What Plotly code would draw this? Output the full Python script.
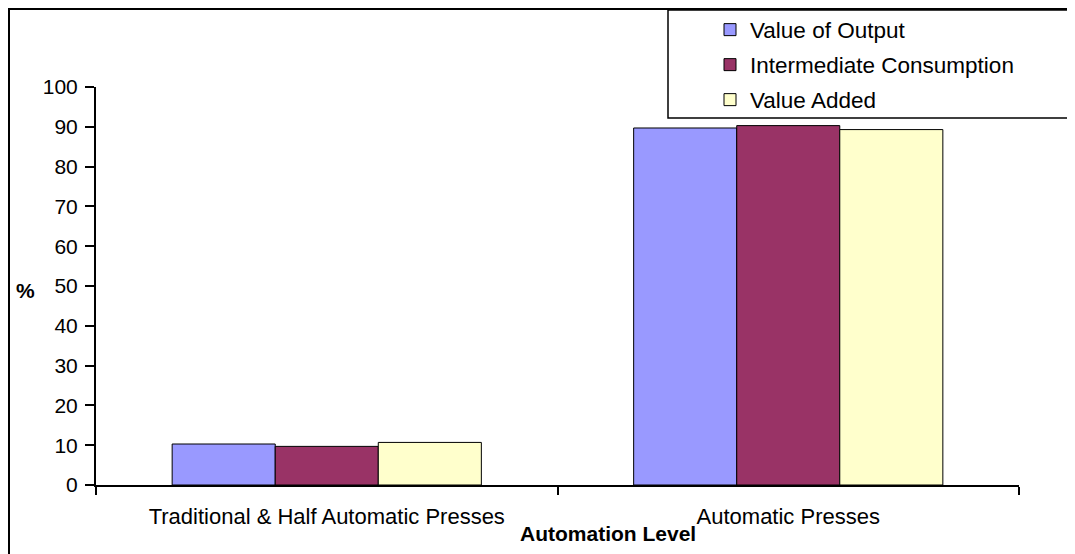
import plotly.graph_objects as go

categories = ["Traditional & Half Automatic Presses", "Automatic Presses"]
series_names = ["Value of Output", "Intermediate Consumption", "Value Added"]
value_of_output = [10.3, 89.7]
intermediate_consumption = [9.7, 90.3]
value_added = [10.7, 89.3]
colors = ["#9999FF", "#993366", "#FFFFCC"]
y_ticks = list(range(0, 101, 10))

W, H = 1075, 554
OFF = 8  # page body margin
L, R, T, B = 88, 64, 79, 77
pw, ph = W - L - R, H - T - B

def px_x(x):
    return (x - OFF - L) / pw

def px_y(y):
    return (H - B - (y - OFF)) / ph

font = "Arial, Liberation Sans, sans-serif"
legend_names = ["legend", "legend2", "legend3"]
row_y = [30, 65, 100]

fig = go.Figure()
for name, vals, col, lg in zip(series_names, [value_of_output, intermediate_consumption, value_added], colors, legend_names):
    fig.add_trace(go.Bar(name=name, x=categories, y=vals, legend=lg,
                         marker=dict(color=col, line=dict(color="black", width=1))))

legend_layout = {}
for lg, ry in zip(legend_names, row_y):
    legend_layout[lg] = dict(x=px_x(710), y=px_y(ry), xanchor="left", yanchor="middle",
                             bgcolor="rgba(0,0,0,0)", borderwidth=0,
                             font=dict(size=22.5, family=font, color="black"))

fig.update_layout(
    width=W, height=H,
    margin=dict(l=L, r=R, t=T, b=B, autoexpand=False),
    paper_bgcolor="white", plot_bgcolor="white",
    barmode="group", bargap=0.33, bargroupgap=0,
    font=dict(family=font, size=21, color="black"),
    showlegend=True,
    xaxis=dict(showline=True, linecolor="black", linewidth=2,
               ticks="outside", ticklen=8, tickwidth=2, tickcolor="black",
               tickson="boundaries", showgrid=False, ticklabelstandoff=11,
               tickfont=dict(size=22, family=font)),
    yaxis=dict(range=[0, 100], tickvals=y_ticks, showline=True, linecolor="black", linewidth=2,
               ticks="outside", ticklen=9, tickwidth=2, tickcolor="black", ticklabelstandoff=3,
               showgrid=False, zeroline=False, tickfont=dict(size=21, family=font)),
    shapes=[
        dict(type="rect", xref="paper", yref="paper",
             x0=px_x(9), x1=px_x(1095), y0=px_y(570), y1=px_y(9),
             line=dict(color="black", width=2), fillcolor="rgba(0,0,0,0)", layer="below"),
        dict(type="rect", xref="paper", yref="paper",
             x0=px_x(668), x1=px_x(1072), y0=px_y(118), y1=px_y(10),
             line=dict(color="black", width=1.5), fillcolor="white", layer="below"),
    ],
    annotations=[
        dict(text="<b>Automation Level</b>", xref="paper", yref="paper",
             x=px_x(607.5), y=px_y(533), xanchor="center", yanchor="middle",
             showarrow=False, font=dict(size=21, family=font)),
        dict(text="<b>%</b>", xref="paper", yref="paper",
             x=px_x(25), y=px_y(290), xanchor="center", yanchor="middle",
             showarrow=False, font=dict(size=21, family=font)),
    ],
    **legend_layout,
)

fig.write_html("out.html")
